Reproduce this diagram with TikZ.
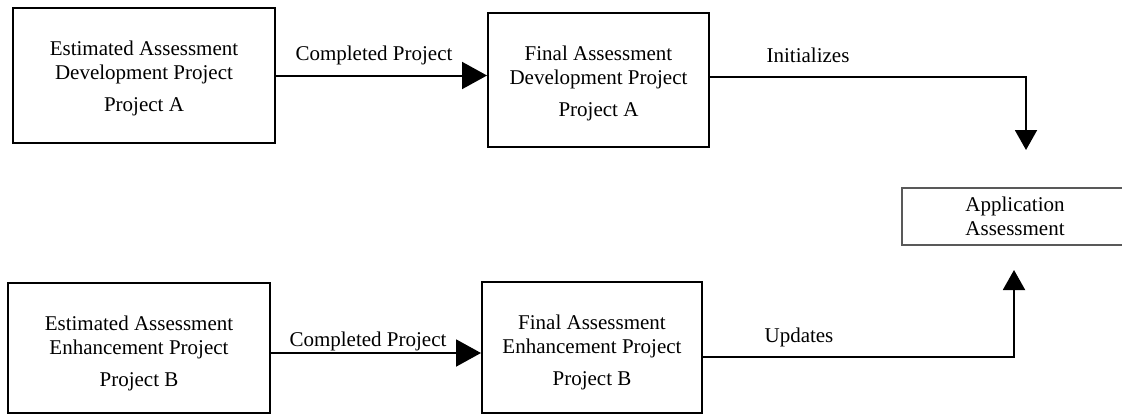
\documentclass[tikz,border=0pt]{standalone}
\usepackage{fontspec}
\setmainfont{Liberation Serif}
\usetikzlibrary{arrows.meta,calc}
\begin{document}
\begin{tikzpicture}[x=1pt,y=-1pt,
  every node/.style={font=\fontsize{21}{24.5}\selectfont},
  blk/.style={draw=black, line width=2pt, inner sep=0pt},
  app/.style={draw=black!65, line width=1.6pt, inner sep=0pt, align=center},
  txt/.style={align=center, inner sep=0pt, anchor=north},
  lbl/.style={inner sep=0pt, anchor=base},
  link/.style={line width=2pt, -{Triangle[length=25pt,width=27pt]}},
  feed/.style={line width=2pt, -{Triangle[length=20pt,width=22pt]}}]

\useasboundingbox (0,0) rectangle (1122,415);

% project boxes
\node[blk, minimum width=262pt, minimum height=135pt] (b1) at (144,75.5) {};
\node[blk, minimum width=221pt, minimum height=134pt] (b2) at (598.5,80) {};
\node[blk, minimum width=262pt, minimum height=130pt] (b3) at (139,348) {};
\node[blk, minimum width=220pt, minimum height=131pt] (b4) at (592,347.5) {};

\node[txt] (t1) at ($(b1.north)+(0,33.7)$) {Estimated Assessment\\Development Project\\[7pt]Project A};
\node[txt] (t2) at ($(b2.north)+(0,33.7)$) {Final Assessment\\Development Project\\[7pt]Project A};
\node[txt] (t3) at ($(b3.north)+(0,33.5)$) {Estimated Assessment\\Enhancement Project\\[7pt]Project B};
\node[txt] (t4) at ($(b4.north)+(0,33.7)$) {Final Assessment\\Enhancement Project\\[7pt]Project B};

% target box
\node[app, minimum width=226pt, minimum height=57pt] (ap) at (1015,216.5) {Application\\Assessment};

% connector labels
\node[lbl] (l1) at (374,60) {Completed Project};
\node[lbl] (l2) at (808,62) {Initializes};
\node[lbl] (l3) at (368,346) {Completed Project};
\node[lbl] (l4) at (799,342) {Updates};

% bends and free ends of the connectors
\coordinate (k2) at (1026,77);
\coordinate (e2) at (1026,150);
\coordinate (k3) at (0,353);
\coordinate (k4) at (1014,357);
\coordinate (e4) at (1014,270);

\draw[link] (b1.east) -- (b1.east -| b2.west);
\draw[feed] (b2.east |- k2) -- (k2) -- (e2);
\draw[link] (b3.east |- k3) -- (b4.west |- k3);
\draw[feed] (b4.east |- k4) -- (k4) -- (e4);
\end{tikzpicture}
\end{document}
